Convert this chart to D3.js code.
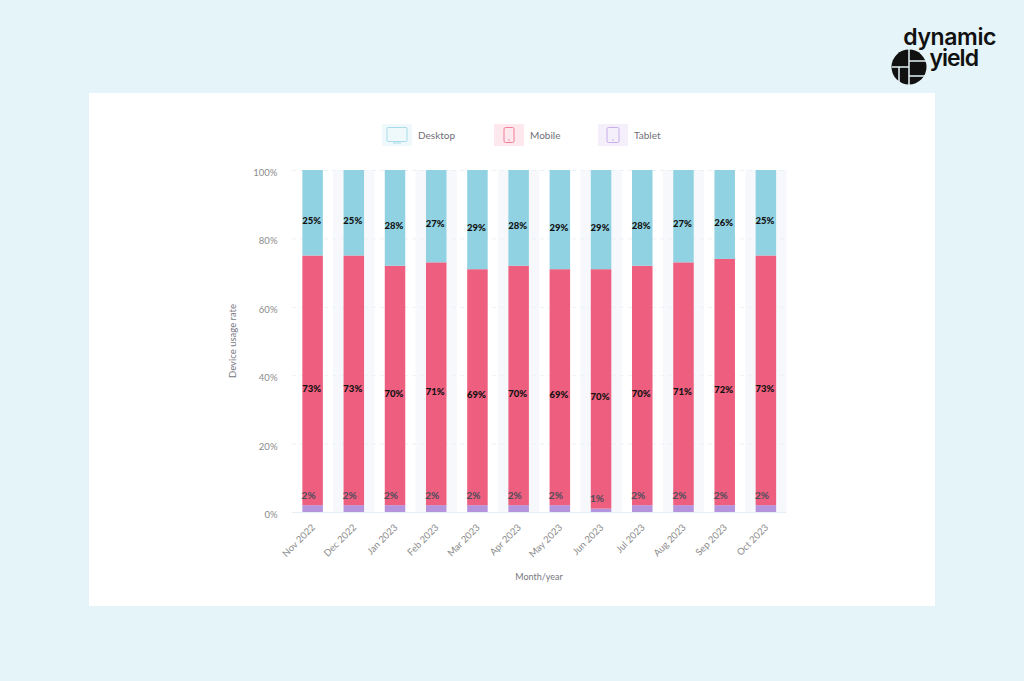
<!doctype html>
<html>
<head>
<style>
    html, body { margin: 0; padding: 0; background: #e5f4f8; }
    svg { display: block; }
    text { font-family: "Lato", "Open Sans", sans-serif; }
</style>
<script src="https://d3js.org/d3.v7.min.js"></script>
</head>
<body>
<svg width="1024" height="681" class="svg1"></svg>
<script>
var months = ["Nov 2022","Dec 2022","Jan 2023","Feb 2023","Mar 2023","Apr 2023","May 2023","Jun 2023","Jul 2023","Aug 2023","Sep 2023","Oct 2023"];
var tablet  = [2,2,2,2,2,2,2,1,2,2,2,2];
var mobile  = [73,73,70,71,69,70,69,70,70,71,72,73];
var desktop = [25,25,28,27,29,28,29,29,28,27,26,25];
var seriesNames = ["Tablet","Mobile","Desktop"];
var seriesColors = {Tablet: "#b394dd", Mobile: "#ee5e7e", Desktop: "#90d2e2"};
var yTicks = [0,20,40,60,80,100];

var rows = months.map(function(m, i) {
    return {month: m, Tablet: tablet[i], Mobile: mobile[i], Desktop: desktop[i]};
});

var svg = d3.select(".svg1");

// white card
svg.append("rect").attr("x", 89).attr("y", 93).attr("width", 846).attr("height", 513).attr("fill", "#fff");

var x = d3.scaleBand().domain(months).range([292, 786.5]);
var y = d3.scaleLinear().domain([0, 100]).range([512, 170]);
var barW = 20.5;
var barOff = (x.bandwidth() - barW) / 2;

// alternate bands
svg.append("g").selectAll("rect")
    .data(months.filter(function(d, i) { return i % 2 == 1; }))
    .enter().append("rect")
    .attr("x", function(d) { return x(d); })
    .attr("y", y(100))
    .attr("width", x.bandwidth())
    .attr("height", y(0) - y(100))
    .attr("fill", "#f7f8fc");

// grid lines
svg.append("g").selectAll("line")
    .data(yTicks)
    .enter().append("line")
    .attr("x1", 292).attr("x2", 786.5)
    .attr("y1", function(d) { return y(d) + 0.5; })
    .attr("y2", function(d) { return y(d) + 0.5; })
    .attr("stroke", function(d) { return d == 0 ? "#e6edf5" : "#eaf2f7"; })
    .attr("stroke-dasharray", function(d) { return d == 0 ? null : "4 4"; });

// bars
var stack = d3.stack().keys(seriesNames)(rows);
var layers = svg.append("g").selectAll("g")
    .data(stack)
    .enter().append("g")
    .attr("fill", function(d) { return seriesColors[d.key]; });

layers.selectAll("rect")
    .data(function(d) { return d; })
    .enter().append("rect")
    .attr("x", function(d) { return x(d.data.month) + barOff; })
    .attr("y", function(d) { return y(d[1]); })
    .attr("width", barW)
    .attr("height", function(d) { return y(d[0]) - y(d[1]); });

// value labels, sit a bit below the middle of the segment
var labels = svg.append("g").selectAll("g")
    .data(stack)
    .enter().append("g")
    .attr("fill", function(d) { return d.key == "Tablet" ? "#4d4d5c" : "#111"; });

labels.each(function(s) {
    d3.select(this).selectAll("text")
        .data(s)
        .enter().append("text")
        .attr("x", function(d) {
            var c = x(d.data.month) + x.bandwidth() / 2;
            return s.key == "Tablet" ? c - 4 : c - 1;
        })
        .attr("y", function(d) {
            if (s.key == "Tablet") return y(d[1]) - 10;
            return (y(d[0]) + y(d[1])) / 2 + 8;
        })
        .attr("dy", "0.35em")
        .attr("text-anchor", "middle")
        .attr("font-size", function() { return s.key == "Tablet" ? "10px" : "9.5px"; })
        .attr("font-weight", function() { return s.key == "Tablet" ? 700 : 900; })
        .text(function(d) { return d.data[s.key] + "%"; });
});

// y axis
var yAxis = d3.axisLeft(y).tickValues(yTicks).tickSize(0).tickPadding(0)
    .tickFormat(function(d) { return d + "%"; });
var yG = svg.append("g").attr("transform", "translate(277.5,2.5)").call(yAxis);
yG.select(".domain").remove();
yG.selectAll("text").attr("font-size", "9.5px").attr("fill", "#8c8c8c");

// x axis
var xAxis = d3.axisBottom(x).tickSize(0).tickPadding(0);
var xG = svg.append("g").attr("transform", "translate(0,512)").call(xAxis);
xG.select(".domain").remove();
xG.selectAll("text")
    .attr("font-size", "9.5px")
    .attr("fill", "#8c8c8c")
    .attr("text-anchor", "end")
    .attr("transform", "translate(-1,12) rotate(-45)")
    .attr("dy", "0.6em");

// axis titles
svg.append("text")
    .attr("transform", "translate(233,341) rotate(-90)")
    .attr("dy", "0.35em")
    .attr("text-anchor", "middle")
    .attr("font-size", "9.5px")
    .attr("fill", "#77777f")
    .text("Device usage rate");

svg.append("text")
    .attr("x", 539).attr("y", 577)
    .attr("dy", "0.35em")
    .attr("text-anchor", "middle")
    .attr("font-size", "9px")
    .attr("fill", "#77777f")
    .text("Month/year");

// legend
var legendItems = [
    {name: "Desktop", x: 382, bg: "#eff8fb", stroke: "#a8dcea"},
    {name: "Mobile", x: 494, bg: "#fde8ed", stroke: "#f27f98"},
    {name: "Tablet", x: 598, bg: "#f5effc", stroke: "#c8aeea"}
];
var legend = svg.append("g").selectAll("g")
    .data(legendItems)
    .enter().append("g")
    .attr("transform", function(d) { return "translate(" + d.x + ",124)"; });

legend.append("rect").attr("width", 30).attr("height", 22).attr("fill", function(d) { return d.bg; });
legend.append("text")
    .attr("x", 36).attr("y", 11)
    .attr("dy", "0.35em")
    .attr("font-size", "10px")
    .attr("fill", "#6f6f78")
    .text(function(d) { return d.name; });

legend.filter(function(d) { return d.name == "Desktop"; }).each(function(d) {
    var g = d3.select(this);
    g.append("rect").attr("x", 5).attr("y", 3.5).attr("width", 20).attr("height", 14).attr("rx", 1)
        .attr("fill", "none").attr("stroke", d.stroke);
    g.append("line").attr("x1", 11).attr("x2", 19).attr("y1", 19).attr("y2", 19).attr("stroke", d.stroke);
});
legend.filter(function(d) { return d.name != "Desktop"; }).each(function(d) {
    var g = d3.select(this);
    var w = d.name == "Mobile" ? 10 : 12;
    g.append("rect").attr("x", 15 - w / 2).attr("y", 3.5).attr("width", w).attr("height", 15).attr("rx", 1.5)
        .attr("fill", "none").attr("stroke", d.stroke);
    g.append("circle").attr("cx", 15).attr("cy", 16).attr("r", 0.8).attr("fill", d.stroke);
});

// logo
var logo = svg.append("g");
logo.append("text").attr("x", 996).attr("y", 45).attr("text-anchor", "end")
    .style("font-family", "Inter").attr("font-size", "23px").attr("font-weight", 600)
    .attr("letter-spacing", "-0.4px").attr("fill", "#111").text("dynamic");
logo.append("text").attr("x", 978).attr("y", 66).attr("text-anchor", "end")
    .style("font-family", "Inter").attr("font-size", "23px").attr("font-weight", 600)
    .attr("letter-spacing", "-1px").attr("fill", "#111").text("yield");
logo.append("circle").attr("cx", 909).attr("cy", 67).attr("r", 17.5).attr("fill", "#111");
var logoCuts = [[892,67,909,67],[909,49,909,85],[899,67,899,85],[909,61,927,61],[909,76,927,76]];
logo.selectAll("line").data(logoCuts).enter().append("line")
    .attr("x1", function(d) { return d[0]; }).attr("y1", function(d) { return d[1]; })
    .attr("x2", function(d) { return d[2]; }).attr("y2", function(d) { return d[3]; })
    .attr("stroke", "#e5f4f8").attr("stroke-width", 1.5);
</script>
</body>
</html>
